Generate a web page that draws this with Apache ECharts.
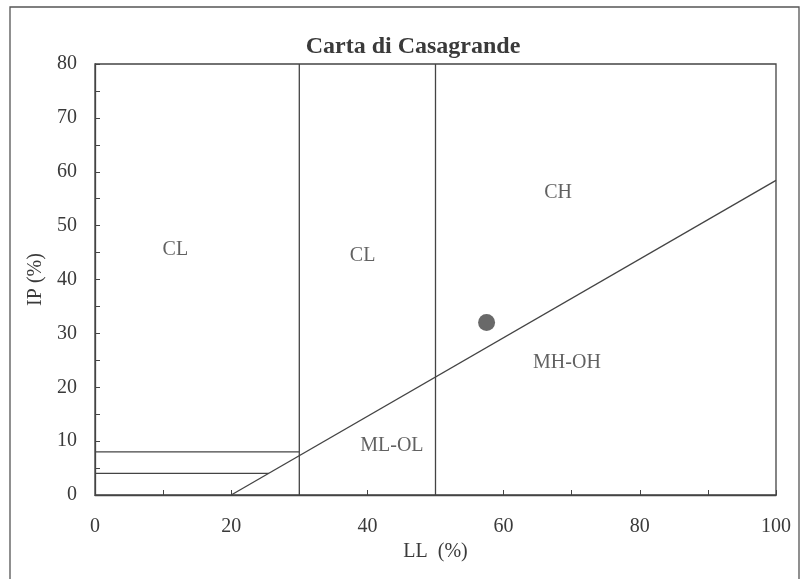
<!DOCTYPE html>
<html><head><meta charset="utf-8">
<script src="https://cdn.jsdelivr.net/npm/echarts@6/dist/echarts.min.js"></script>
<style>html,body{margin:0;padding:0;background:#fff}#c{width:806px;height:579px}</style>
</head><body><div id="c"></div>
<script>
// A-line (Casagrande): IP = 0.73 (LL - 20)
const aLineLL = [20, 100];
const aLineIP = [0, 58.4];
// vertical boundaries (LL)
const verticalLL = [30, 50];
// horizontal boundaries: [IP, LL end]
const horizIP = [8, 4];
const horizLLEnd = [30, 25.5];
// sample point
const sampleLL = [57.5];
const sampleIP = [32];
// zone labels
const zoneNames = ['CL', 'CL', 'CH', 'MH-OH', 'ML-OL'];
const zoneLL = [11.8, 39.3, 68, 69.3, 43.6];
const zoneIP = [45.6, 44.5, 56.1, 24.6, 9.2];

const lineCol = '#444';
const font = 'Liberation Serif';
const series = [];
series.push({type:'line', data: aLineLL.map((v,i)=>[v, aLineIP[i]]), symbol:'none', lineStyle:{color:lineCol, width:1.3}, silent:true});
verticalLL.forEach(v => series.push({type:'line', data:[[v,0],[v,80]], symbol:'none', lineStyle:{color:lineCol, width:1.3}, silent:true}));
horizIP.forEach((v,i) => series.push({type:'line', data:[[0,v],[horizLLEnd[i],v]], symbol:'none', lineStyle:{color:lineCol, width:1.3}, silent:true}));
series.push({type:'scatter', data: sampleLL.map((v,i)=>[v, sampleIP[i]]), symbolSize:17, itemStyle:{color:'#444'}});
series.push({type:'scatter', data: zoneNames.map((n,i)=>({name:n, value:[zoneLL[i], zoneIP[i]]})), symbolSize:0,
  label:{show:true, position:'inside', formatter:'{b}', color:'#3a3a3a', fontFamily:font, fontSize:20}});

const chart = echarts.init(document.getElementById('c'));
chart.setOption({
  animation:false,
  backgroundColor:'#fff',
  title:{text:'Carta di Casagrande', left:408, top:30, textAlign:'center',
    textStyle:{fontFamily:font, fontSize:24, fontWeight:'bold', color:'#3a3a3a'}},
  graphic:[{type:'rect', shape:{x:10, y:7, width:789, height:600}, style:{fill:'none', stroke:'#555', lineWidth:1.3}, silent:true}],
  grid:{left:95, right:30, top:64, bottom:84, show:true, borderColor:lineCol, borderWidth:1.3},
  xAxis:{type:'value', min:0, max:100, interval:20, name:'LL  (%)', nameLocation:'middle', nameGap:46,
    nameTextStyle:{fontFamily:font, fontSize:20, color:'#3a3a3a'},
    axisLine:{show:true, lineStyle:{color:lineCol, width:1.3}},
    axisTick:{show:true, inside:true, length:5, lineStyle:{color:lineCol}},
    minorTick:{show:true, splitNumber:2, length:5, lineStyle:{color:lineCol}},
    axisLabel:{fontFamily:font, fontSize:20, color:'#3a3a3a', margin:22},
    splitLine:{show:false}},
  yAxis:{type:'value', min:0, max:80, interval:10, name:'IP (%)', nameLocation:'middle', nameGap:47, nameRotate:90,
    nameTextStyle:{fontFamily:font, fontSize:20, color:'#3a3a3a'},
    axisLine:{show:true, lineStyle:{color:lineCol, width:1.3}},
    axisTick:{show:true, inside:true, length:5, lineStyle:{color:lineCol}},
    minorTick:{show:true, splitNumber:2, length:5, lineStyle:{color:lineCol}},
    axisLabel:{fontFamily:font, fontSize:20, color:'#3a3a3a', margin:18},
    splitLine:{show:false}},
  series: series
});
</script></body></html>
